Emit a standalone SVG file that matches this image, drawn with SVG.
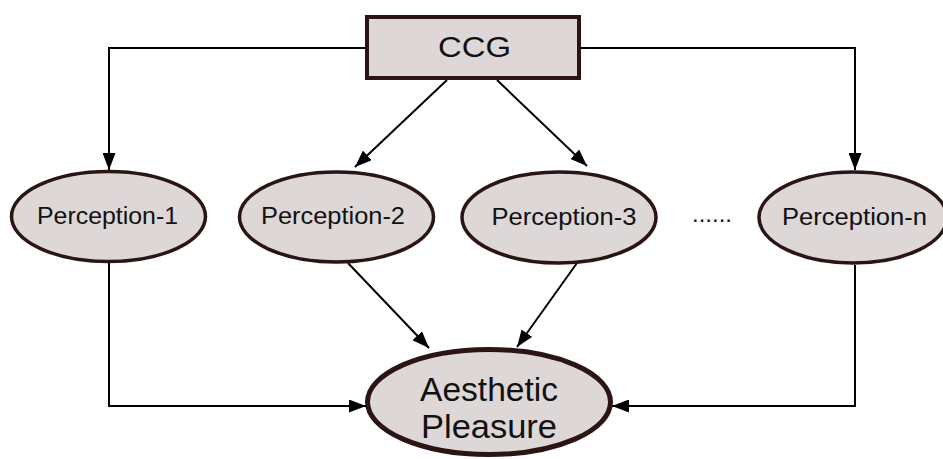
<svg xmlns="http://www.w3.org/2000/svg" width="943" height="459" viewBox="0 0 943 459">
<style>
.node{fill:#ddd7d7;stroke:#2b1414;}
.p{stroke-width:3.5;}
.t{font-family:"Liberation Sans",Arial,sans-serif;fill:#111;text-anchor:middle;}
.c{fill:none;stroke:#000;stroke-width:2;}
</style>
<defs>
<marker id="ah" viewBox="0 0 17 13" refX="17" refY="6.5" markerWidth="17" markerHeight="13" markerUnits="userSpaceOnUse" orient="auto">
<path d="M0,0 L17,6.5 L0,13 Z" fill="#000"/>
</marker>
</defs>
<rect width="943" height="459" fill="#fff"/>
<g id="connectors">
<polyline class="c" points="366,48 109,48 109,170" marker-end="url(#ah)"/>
<polyline class="c" points="581,48 855,48 855,170" marker-end="url(#ah)"/>
<line class="c" x1="447" y1="80" x2="355" y2="167" marker-end="url(#ah)"/>
<line class="c" x1="497" y1="80" x2="587" y2="166" marker-end="url(#ah)"/>
<line class="c" x1="348" y1="263" x2="429" y2="348" marker-end="url(#ah)"/>
<line class="c" x1="577" y1="263" x2="517" y2="347" marker-end="url(#ah)"/>
<polyline class="c" points="109,263 109,406 366,406" marker-end="url(#ah)"/>
<polyline class="c" points="855,265 855,406 612,406" marker-end="url(#ah)"/>
</g>
<g id="ccg">
<rect class="node" x="367" y="17" width="212" height="61" stroke-width="4"/>
<text class="t" x="474.5" y="57" font-size="30" textLength="73" lengthAdjust="spacingAndGlyphs">CCG</text>
</g>
<g id="perception-1">
<ellipse class="node p" cx="108.5" cy="216.5" rx="97" ry="45"/>
<text class="t" x="107.5" y="224" font-size="23.5" textLength="141" lengthAdjust="spacingAndGlyphs">Perception-1</text>
</g>
<g id="perception-2">
<ellipse class="node p" cx="336.5" cy="217" rx="97" ry="45"/>
<text class="t" x="333" y="224" font-size="23.5" textLength="144" lengthAdjust="spacingAndGlyphs">Perception-2</text>
</g>
<g id="perception-3">
<ellipse class="node p" cx="559" cy="217.5" rx="97" ry="45.5"/>
<text class="t" x="564" y="225" font-size="23.5" textLength="145" lengthAdjust="spacingAndGlyphs">Perception-3</text>
</g>
<g id="ellipsis">
<text class="t" x="712" y="222" font-size="23.5" textLength="40" lengthAdjust="spacingAndGlyphs">......</text>
</g>
<g id="perception-n">
<ellipse class="node p" cx="853" cy="217.5" rx="94" ry="45.5"/>
<text class="t" x="854.5" y="225" font-size="23.5" textLength="145" lengthAdjust="spacingAndGlyphs">Perception-n</text>
</g>
<g id="aesthetic-pleasure">
<ellipse class="node" cx="489" cy="402" rx="121.5" ry="52.5" stroke-width="5"/>
<text class="t" x="489" y="401" font-size="32.5" textLength="138" lengthAdjust="spacingAndGlyphs">Aesthetic</text>
<text class="t" x="489" y="438" font-size="32.5" textLength="136" lengthAdjust="spacingAndGlyphs">Pleasure</text>
</g>
</svg>
